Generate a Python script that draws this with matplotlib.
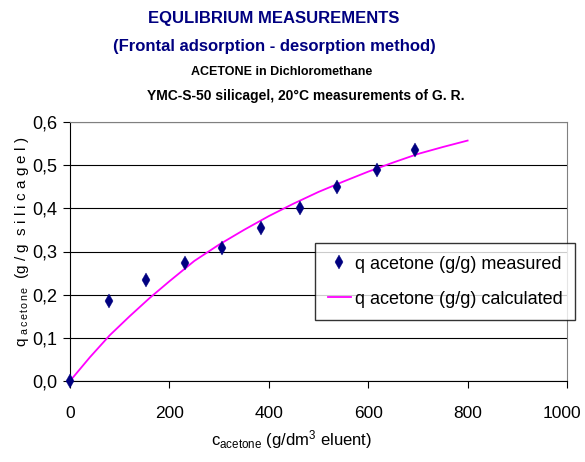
import matplotlib.pyplot as plt
import matplotlib.font_manager as fm
from matplotlib.transforms import ScaledTranslation

# measured equilibrium points
c_meas = [0, 79, 152, 231, 305, 384, 463, 537, 618, 694]
q_meas = [0.0, 0.185, 0.234, 0.274, 0.309, 0.355, 0.401, 0.450, 0.488, 0.536]

# calculated isotherm
c_calc = [0, 40, 80, 120, 160, 200, 250, 300, 350, 400, 450, 500, 550, 600, 650, 700, 750, 800]
q_calc = [0.0, 0.055, 0.106, 0.150, 0.192, 0.231, 0.278, 0.316, 0.350, 0.382, 0.411, 0.438, 0.462, 0.485, 0.506, 0.526, 0.542, 0.557]

xticks = [0, 200, 400, 600, 800, 1000]
yticks = [0.0, 0.1, 0.2, 0.3, 0.4, 0.5, 0.6]
ytick_labels = ['0,0', '0,1', '0,2', '0,3', '0,4', '0,5', '0,6']

names = {f.name for f in fm.fontManager.ttflist}
narrow = 'Liberation Sans Narrow' if 'Liberation Sans Narrow' in names else 'Liberation Sans'
plt.rcParams['font.family'] = [narrow, 'DejaVu Sans']
plt.rcParams['mathtext.fontset'] = 'custom'
plt.rcParams['mathtext.rm'] = narrow
plt.rcParams['mathtext.it'] = narrow

fig = plt.figure(figsize=(5.85, 4.62), dpi=100)
ax = fig.add_axes([70 / 585, 1 - 381 / 462, 497 / 585, 259 / 462])

ax.plot(c_calc, q_calc, color='#ff00ff', lw=1.3, label='q acetone (g/g) calculated', zorder=3)
ax.plot(c_meas, q_meas, linestyle='none', marker='d', color='#000080', markersize=7.5, mew=0.3,
        label='q acetone (g/g) measured', zorder=4, clip_on=False)

ax.set_xlim(0, 1000)
ax.set_ylim(0, 0.6)
ax.set_xticks(xticks)
ax.set_yticks(yticks)
ax.set_yticklabels(ytick_labels)
ax.tick_params(labelsize=13, length=5, direction='out', pad=13)
ax.tick_params(axis='x', labelsize=12.5)
ax.tick_params(axis='y', pad=4)
# keep "1000" inside the picture
last = ax.get_xticklabels()[-1]
last.set_transform(last.get_transform() + ScaledTranslation(-5 / 100, 0, fig.dpi_scale_trans))
ax.yaxis.grid(True, color='black', lw=0.8)
ax.set_axisbelow(True)
for s in ['top', 'right']:
    ax.spines[s].set_color('#808080')
for s in ['left', 'bottom']:
    ax.spines[s].set_color('black')

fig.text(291 / 585, 1 - 440 / 462, r'c$_{\rm acetone}$ (g/dm$^3$ eluent)', ha='center', va='center', fontsize=12)
fig.text(22 / 585, 1 - 242 / 462, r'q $_{\rm a\,c\,e\,t\,o\,n\,e}$  (g / g  s i l i c a g e l )',
         ha='center', va='center', rotation=90, fontsize=11)

fig.text(274 / 585, 1 - 18 / 462, 'EQULIBRIUM MEASUREMENTS', ha='center', va='center',
         fontsize=12, fontweight='bold', color='#000080')
fig.text(274 / 585, 1 - 46 / 462, '(Frontal adsorption - desorption method)', ha='center', va='center',
         fontsize=12, fontweight='bold', color='#000080')
fig.text(282 / 585, 1 - 72 / 462, 'ACETONE in Dichloromethane', ha='center', va='center',
         fontsize=9, fontweight='bold')
fig.text(306 / 585, 1 - 96 / 462, 'YMC-S-50 silicagel, 20°C measurements of G. R.', ha='center', va='center',
         fontsize=10, fontweight='bold')

h, l = ax.get_legend_handles_labels()
leg = fig.legend(h[::-1], l[::-1], loc='upper left', bbox_to_anchor=(315 / 585, 1 - 243 / 462),
                 fontsize=13, frameon=True, fancybox=False, handlelength=1.3, handletextpad=0.2,
                 borderpad=0.7, labelspacing=1.0, borderaxespad=0)
leg.get_frame().set_edgecolor('black')
leg.get_frame().set_linewidth(1)

fig.savefig('out.png', dpi=100)
